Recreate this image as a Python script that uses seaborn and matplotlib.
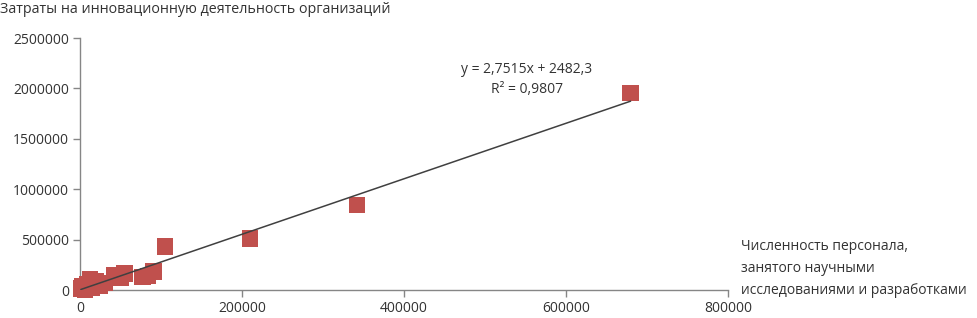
import numpy as np
import pandas as pd
import matplotlib
matplotlib.use("Agg")
import matplotlib.pyplot as plt
import seaborn as sns

sns.set_style("white")
plt.rcParams['font.family'] = ['Open Sans', 'DejaVu Sans']

# численность персонала, занятого исследованиями и разработками
staff = [1000, 3000, 6000, 9000, 12000, 15000, 19000, 24000, 30000,
         42000, 50000, 55000, 77000, 84000, 91000, 105000, 210000, 342000, 680000]
# затраты на инновационную деятельность организаций
costs = [15000, 40000, 5000, 60000, 110000, 25000, 90000, 45000, 70000,
         150000, 120000, 165000, 130000, 140000, 185000, 430000, 510000, 845000, 1955000]

slope, intercept = 2.7515, 2482.3
eq_text = "y = 2,7515x + 2482,3\nR² = 0,9807"

df = pd.DataFrame({"x": staff, "y": costs})
xs = np.array([min(staff), max(staff)])
trend = pd.DataFrame({"x": xs, "y": slope * xs + intercept})

fig = plt.figure(figsize=(9.77, 3.18), dpi=100)
ax = fig.add_axes([0.0819, 0.088, 0.663, 0.7925])

sns.lineplot(data=trend, x="x", y="y", ax=ax, color="#404040", lw=1.1, zorder=4)
sns.scatterplot(data=df, x="x", y="y", ax=ax, marker="s", s=140,
                color="#C0504D", edgecolor="none", zorder=3, clip_on=False)

ax.set_xlim(0, 800000)
ax.set_ylim(0, 2500000)
ax.set_xticks(range(0, 800001, 200000))
ax.set_yticks(range(0, 2500001, 500000))
fmt = matplotlib.ticker.FuncFormatter(lambda v, p: f"{int(v)}")
ax.xaxis.set_major_formatter(fmt)
ax.yaxis.set_major_formatter(fmt)
ax.set_xlabel("")
ax.set_ylabel("")
ax.tick_params(axis="both", direction="out", length=5, width=1, color="#868686",
               labelsize=10, labelcolor="#333333", pad=3, bottom=True, left=True)
for side in ["top", "right"]:
    ax.spines[side].set_visible(False)
for side in ["left", "bottom"]:
    ax.spines[side].set_color("#868686")
    ax.spines[side].set_linewidth(1)

fig.text(0.0, 0.995, "Затраты на инновационную деятельность организаций",
         ha="left", va="top", fontsize=10.3, color="#333333")
fig.text(0.539, 0.751, eq_text, ha="center", va="center", fontsize=10,
         color="#333333", linespacing=1.45)
fig.text(0.758, 0.155, "Численность персонала,\nзанятого научными\nисследованиями и разработками",
         ha="left", va="center", fontsize=10, color="#333333", linespacing=1.65)

fig.savefig("out.png", dpi=100)
